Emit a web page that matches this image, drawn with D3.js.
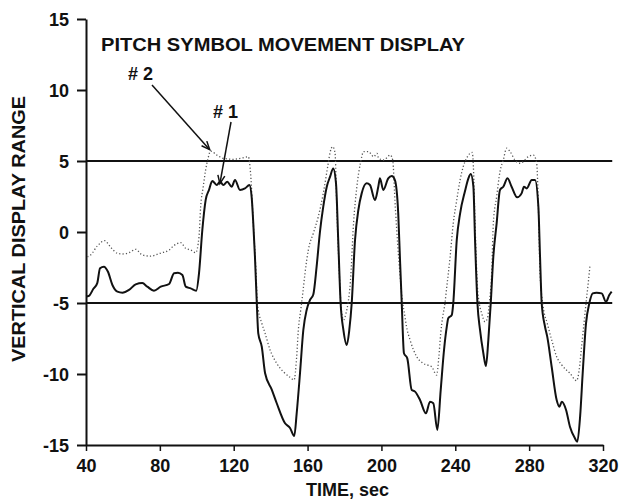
<!DOCTYPE html>
<html>
<head>
<meta charset="utf-8">
<script src="https://cdn.jsdelivr.net/npm/d3@7"></script>
<style>
  body { margin: 0; background: #fff; }
  text { font-family: "Liberation Sans", Arial, Helvetica, sans-serif; font-weight: bold; fill: #111; }
</style>
</head>
<body>
<div id="container"></div>
<script>
// x ticks (time, sec) and y ticks (vertical display range)
const xTicks = [40, 80, 120, 160, 200, 240, 280, 320];
const yTicks = [-15, -10, -5, 0, 5, 10, 15];
const refLevels = [5, -5];

// symbol #1 (solid trace)
const solidTime = [40, 41.6, 44, 46.1, 47.6, 49.7, 51.9, 54.3, 57, 59.7, 63.3, 66.9, 70.5, 73.2, 76.8, 80.5, 85, 87.7, 89.8, 92.2, 94, 96.7, 99.7, 101.2, 103, 104.8, 106.6, 108.4, 110.8, 112.6, 114.4, 116.5, 118.9, 120.7, 123.4, 126.1, 128.5, 129.7, 130.6, 131.5, 132.5, 133.3, 135.2, 137, 140.6, 143.3, 147.8, 150.5, 152.8, 154.1, 155.9, 157.7, 159.5, 161.3, 163.1, 164.9, 166.7, 168.5, 170.4, 172.2, 173.9, 175.4, 176.6, 177.9, 179.4, 181.2, 182.6, 183.9, 185.7, 187.5, 189.3, 192, 193.8, 196.5, 198.3, 199.2, 201, 203.7, 205.6, 207.3, 209.1, 210, 211, 212.2, 214, 216.4, 218.2, 220.9, 224.1, 226.3, 228.1, 230.3, 232.1, 233.9, 235.4, 236.2, 238.1, 238.9, 240.8, 242.6, 245.3, 247.1, 248.4, 249.8, 250.7, 252, 253.4, 255.2, 256.6, 257.9, 259.2, 260.6, 262.4, 264.2, 266, 268.3, 270.5, 273.5, 275.9, 277.2, 278.7, 281.4, 283.2, 285, 285.9, 286.8, 288.6, 289.8, 292.2, 294.9, 296.4, 297.7, 300, 302.1, 304.8, 306.1, 307.6, 309, 310.8, 312.6, 314.4, 316.5, 319.3, 321.6, 323.4, 324.7];
const solidValue = [-4.55, -4.5, -4.0, -3.6, -2.56, -2.44, -2.8, -3.73, -4.2, -4.27, -4.08, -3.69, -3.6, -3.85, -4.13, -3.85, -3.66, -2.9, -2.87, -3.03, -3.85, -3.97, -4.13, -2.91, 0.14, 2.25, 2.96, 3.6, 3.31, 3.54, 3.31, 3.54, 3.19, 3.66, 2.96, 3.07, 3.31, 2.49, 0.61, -1.74, -5.02, -7.14, -8.08, -9.95, -11.1, -12.06, -13.47, -13.8, -14.37, -12.77, -9.95, -6.9, -5.49, -4.79, -4.4, -2.44, 0.0, 1.78, 3.19, 3.9, 4.48, 3.43, -0.56, -5.02, -6.9, -7.96, -6.9, -5.02, -0.56, 1.55, 2.72, 3.43, 3.31, 2.25, 3.19, 3.78, 2.96, 3.78, 3.94, 3.66, 1.31, -1.74, -5.02, -8.54, -8.9, -11.13, -11.24, -11.83, -12.77, -11.95, -12.06, -13.94, -11.13, -8.31, -6.67, -6.08, -5.85, -5.02, -0.56, 1.3, 2.9, 3.78, 4.08, 3.19, -0.56, -5.02, -6.9, -8.54, -9.44, -7.6, -5.02, -1.74, 0.61, 2.96, 3.19, 3.78, 3.19, 2.44, 2.72, 3.19, 3.07, 3.66, 3.66, 1.78, -1.74, -5.02, -6.67, -7.37, -9.49, -11.83, -12.3, -11.95, -12.53, -13.71, -14.53, -14.77, -13, -9.95, -6.43, -5.02, -4.32, -4.27, -4.32, -4.91, -4.44, -4.2];

// symbol #2 (dotted trace)
const dottedTime = [40.7, 42.5, 46.1, 50.1, 53.4, 57, 59.7, 63.3, 66.9, 70.5, 75, 80, 85, 87.3, 91.3, 94, 96.7, 99.4, 101.2, 102.1, 103.5, 104.8, 106.1, 107.5, 110.8, 114.4, 119.8, 124, 127.9, 129.2, 130.6, 132.1, 132.8, 133.3, 135.2, 137, 139.7, 143.3, 146.9, 150.5, 152.7, 154.1, 155, 156.3, 157.4, 158.6, 160.4, 163.1, 165.8, 168.5, 171.2, 172.2, 173.6, 174.9, 175.8, 177.2, 178.3, 179.5, 180.8, 181.9, 183.2, 184.9, 186.7, 188.6, 190.4, 193, 195.8, 197.6, 198.5, 201.2, 204.8, 206.1, 207.5, 210, 211.5, 212.3, 213.6, 215.5, 219.1, 222.6, 227.2, 229.9, 231.1, 232.1, 233.2, 234.4, 235, 237.2, 238.9, 240.8, 242.6, 244.3, 246.1, 248, 249.2, 249.8, 250.7, 252, 253, 254.3, 256.1, 257.4, 258.4, 259.7, 260.6, 262.4, 264.2, 266, 267.8, 269.7, 272.3, 275.1, 279.6, 282.3, 284.1, 285, 285.9, 287.6, 289.8, 292.2, 294.9, 297.7, 302.1, 305.7, 307.1, 308.4, 309.7, 310.8, 312, 313];
const dottedValue = [-1.74, -1.62, -0.99, -0.61, -1.08, -1.5, -1.55, -1.46, -1.22, -1.62, -1.7, -1.5, -1.27, -0.99, -0.75, -1.15, -1.27, -1.46, -0.33, 1.78, 3.19, 4.37, 5.19, 5.7, 5.42, 5.19, 5.12, 5.2, 5.3, 4.01, 0.61, -2.91, -5.02, -5.49, -6.43, -7.14, -8.31, -9.25, -9.84, -10.23, -10.42, -8.78, -6.9, -5.49, -4.32, -2.91, -1.27, -0.09, 1.08, 2.72, 4.84, 5.6, 6.01, 5.54, 1.78, -2.91, -5.49, -6.2, -5.73, -5.02, -3.5, 0.61, 3.19, 4.84, 5.66, 5.66, 5.3, 5.54, 5.19, 5.07, 5.42, 5.07, 1.78, -2.91, -5.02, -5.6, -6.67, -7.6, -8.78, -9.25, -9.49, -10.07, -8.78, -7.14, -5.96, -5.02, -4.32, -1.74, 0.61, 2.25, 3.66, 4.6, 5.19, 5.54, 5.6, 4.6, 0.61, -3.85, -5.02, -5.73, -6.32, -6.08, -5.02, -2.91, 0.61, 2.49, 4.25, 5.07, 5.9, 5.66, 5.07, 4.84, 5.3, 5.42, 4.84, 1.78, -2.91, -5.26, -6.43, -7.6, -8.78, -9.37, -9.95, -10.47, -9.72, -8.08, -6.43, -5.02, -3.6, -2.3];

const width = 619, height = 500;
const margin = {left: 86, right: 16, top: 19, bottom: 55};

const svg = d3.select("#container").append("svg")
  .attr("width", width)
  .attr("height", height);

const x = d3.scaleLinear().domain([40, 320]).range([margin.left, width - margin.right]);
const y = d3.scaleLinear().domain([-15, 15]).range([height - margin.bottom, margin.top]);

const fmt = d => String(d).replace("\u2212", "-");

// y axis
const yAxis = svg.append("g")
  .attr("transform", `translate(${margin.left},0)`)
  .call(d3.axisLeft(y).tickValues(yTicks).tickSize(9).tickSizeOuter(0).tickPadding(8).tickFormat(fmt));
yAxis.select(".domain").attr("stroke", "#111").attr("stroke-width", 2);
yAxis.selectAll(".tick line").attr("stroke", "#111").attr("stroke-width", 2);
yAxis.selectAll(".tick text").attr("font-size", 18).attr("dy", "0.36em");

// x axis
const xAxis = svg.append("g")
  .attr("transform", `translate(0,${y(-15)})`)
  .call(d3.axisBottom(x).tickValues(xTicks).tickSize(6).tickSizeOuter(0).tickPadding(8).tickFormat(fmt));
xAxis.select(".domain").attr("stroke", "#111").attr("stroke-width", 2);
xAxis.selectAll(".tick line").attr("stroke", "#111").attr("stroke-width", 1.5);
xAxis.selectAll(".tick text").attr("font-size", 18);

// reference levels at +5 and -5
svg.append("g")
  .selectAll("line")
  .data(refLevels)
  .join("line")
  .attr("x1", x(40))
  .attr("x2", x(325))
  .attr("y1", d => y(d))
  .attr("y2", d => y(d))
  .attr("stroke", "#111")
  .attr("stroke-width", 2);

const solid = solidTime.map((t, i) => [t, solidValue[i]]);
const dotted = dottedTime.map((t, i) => [t, dottedValue[i]]);

const line = d3.line()
  .x(d => x(d[0]))
  .y(d => y(d[1]))
  .curve(d3.curveMonotoneX);

svg.append("path")
  .datum(dotted)
  .attr("fill", "none")
  .attr("stroke", "#555")
  .attr("stroke-width", 1.3)
  .attr("stroke-dasharray", "1.2,2.2")
  .attr("d", line);

svg.append("path")
  .datum(solid)
  .attr("fill", "none")
  .attr("stroke", "#111")
  .attr("stroke-width", 2)
  .attr("stroke-linejoin", "round")
  .attr("d", line);

// title and annotations
svg.append("text")
  .attr("x", 101)
  .attr("y", 51)
  .attr("font-size", 18)
  .attr("textLength", 364)
  .attr("lengthAdjust", "spacingAndGlyphs")
  .text("PITCH SYMBOL MOVEMENT DISPLAY");

svg.append("text").attr("x", 128).attr("y", 80).attr("font-size", 18).text("# 2");
svg.append("text").attr("x", 213).attr("y", 118).attr("font-size", 18).text("# 1");

function arrow(x1, y1, x2, y2) {
  const a = Math.atan2(y2 - y1, x2 - x1);
  const len = 9, spread = 0.4;
  const g = svg.append("g").attr("stroke", "#111").attr("stroke-width", 1.5).attr("fill", "none");
  g.append("line").attr("x1", x1).attr("y1", y1).attr("x2", x2).attr("y2", y2);
  g.append("path").attr("d",
    `M${x2 - len * Math.cos(a - spread)},${y2 - len * Math.sin(a - spread)}L${x2},${y2}L${x2 - len * Math.cos(a + spread)},${y2 - len * Math.sin(a + spread)}`);
}
arrow(152, 85, x(107), y(5.8));
arrow(231, 122, x(112.5), y(3.4));

// axis titles
svg.append("text")
  .attr("x", (x(40) + x(320)) / 2 + 3)
  .attr("y", 496)
  .attr("text-anchor", "middle")
  .attr("font-size", 18)
  .text("TIME, sec");

svg.append("text")
  .attr("transform", `translate(25,${(y(15) + y(-15)) / 2 - 3}) rotate(-90)`)
  .attr("text-anchor", "middle")
  .attr("font-size", 18)
  .attr("textLength", 266)
  .attr("lengthAdjust", "spacingAndGlyphs")
  .text("VERTICAL DISPLAY RANGE");
</script>
</body>
</html>
